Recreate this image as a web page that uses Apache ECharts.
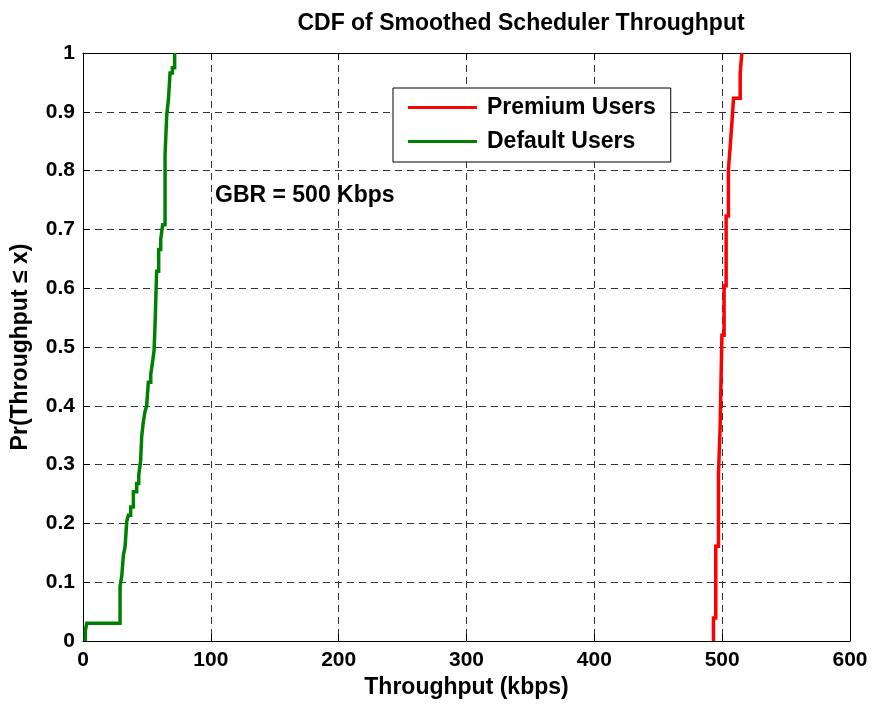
<!DOCTYPE html>
<html>
<head>
<meta charset="utf-8">
<script src="https://cdn.jsdelivr.net/npm/echarts@6/dist/echarts.min.js"></script>
<style>
  html, body { margin: 0; padding: 0; background: #fff; }
  #chart { width: 874px; height: 704px; }
</style>
</head>
<body>
<div id="chart"></div>
<script>
// CDF steps: throughput (kbps) where the curve jumps, and probability after the jump
const premiumX = [493.2, 493.2, 495.0, 497.1, 498.4, 499.8, 501.5, 503.1, 504.9, 506.3, 507.6, 508.9, 514.1, 515.4];
const premiumP = [0, 0.039, 0.161, 0.282, 0.364, 0.52, 0.604, 0.723, 0.802, 0.841, 0.881, 0.923, 0.966, 1.0];

const defaultX = [1.8, 1.8, 2.9, 29.0, 30.3, 31.6, 32.9, 34.2, 35.5, 37.3, 39.4, 42.0, 43.6, 45.1, 45.9,
  47.2, 48.5, 49.8, 51.1, 53.0, 54.2, 55.6, 56.5, 57.6, 59.2, 60.8, 62.3, 64.2, 65.5, 66.8, 68.1, 69.9, 71.7];
const defaultP = [0, 0.017, 0.03, 0.093, 0.11, 0.146, 0.16, 0.203, 0.214, 0.228, 0.254, 0.268, 0.282, 0.307, 0.347,
  0.373, 0.39, 0.40, 0.44, 0.454, 0.471, 0.494, 0.547, 0.629, 0.666, 0.683, 0.708, 0.827, 0.895, 0.92, 0.966, 0.975, 1.0];

const seriesNames = ['Premium Users', 'Default Users'];
const seriesColors = ['#ff0000', '#008000'];
const annotation = 'GBR = 500 Kbps';

const FONT = "'Liberation Sans', Arial, sans-serif";

function zip(xs, ys) {
  return xs.map((x, i) => [x, ys[i]]);
}

const chart = echarts.init(document.getElementById('chart'));

// box axes (top / right) only draw the frame and inside ticks
function frameAxis(pos, min, max, interval) {
  return {
    type: 'value', position: pos, min: min, max: max, interval: interval,
    axisLine: { show: true, onZero: false, lineStyle: { color: '#000', width: 1 } },
    axisTick: { show: true, inside: true, length: 7, lineStyle: { color: '#000' } },
    axisLabel: { show: false },
    splitLine: { show: false }
  };
}

const gridLine = { show: true, lineStyle: { color: '#333', type: [7, 5], width: 1 } };

chart.setOption({
  animation: false,
  backgroundColor: '#fff',
  title: {
    text: 'CDF of Smoothed Scheduler Throughput',
    left: 516,
    textAlign: 'center',
    top: 7,
    textStyle: { color: '#000', fontSize: 23, fontWeight: 'bold', fontFamily: FONT }
  },
  grid: { left: 83, right: 24, top: 53, bottom: 61 },
  legend: {
    data: seriesNames,
    orient: 'vertical',
    left: 393,
    top: 88,
    padding: [8, 15, 9, 15],
    itemGap: 11,
    itemWidth: 69,
    itemHeight: 3,
    icon: 'rect',
    borderColor: '#000',
    borderWidth: 1,
    backgroundColor: '#fff',
    textStyle: { color: '#000', fontSize: 23, fontWeight: 'bold', fontFamily: FONT, lineHeight: 23, padding: [0, 0, 0, 5] }
  },
  xAxis: [
    {
      type: 'value', position: 'bottom', min: 0, max: 600, interval: 100,
      axisLine: { show: true, onZero: false, lineStyle: { color: '#000', width: 1 } },
      axisTick: { show: true, inside: true, length: 7, lineStyle: { color: '#000' } },
      axisLabel: { color: '#000', fontSize: 21, fontWeight: 'bold', fontFamily: FONT, margin: 9 },
      splitLine: gridLine,
      name: 'Throughput (kbps)',
      nameLocation: 'middle',
      nameGap: 35,
      nameTextStyle: { color: '#000', fontSize: 23, fontWeight: 'bold', fontFamily: FONT }
    },
    frameAxis('top', 0, 600, 100)
  ],
  yAxis: [
    {
      type: 'value', position: 'left', min: 0, max: 1, interval: 0.1,
      axisLine: { show: true, onZero: false, lineStyle: { color: '#000', width: 1 } },
      axisTick: { show: true, inside: true, length: 7, lineStyle: { color: '#000' } },
      axisLabel: {
        color: '#000', fontSize: 21, fontWeight: 'bold', fontFamily: FONT, margin: 8,
        formatter: v => (v === 0 || v === 1) ? String(v) : v.toFixed(1)
      },
      splitLine: gridLine,
      name: 'Pr(Throughput \u2264 x)',
      nameLocation: 'middle',
      nameGap: 51,
      nameTextStyle: { color: '#000', fontSize: 23, fontWeight: 'bold', fontFamily: FONT }
    },
    frameAxis('right', 0, 1, 0.1)
  ],
  graphic: [
    {
      type: 'text',
      left: 215,
      top: 184,
      style: { text: annotation, fill: '#000', font: 'bold 23px ' + FONT }
    }
  ],
  series: [
    {
      name: seriesNames[0],
      type: 'line',
      step: 'end',
      showSymbol: false,
      data: zip(premiumX, premiumP),
      itemStyle: { color: seriesColors[0] },
      lineStyle: { color: seriesColors[0], width: 3.5, join: 'miter', cap: 'butt' },
      z: 3
    },
    {
      name: seriesNames[1],
      type: 'line',
      step: 'end',
      showSymbol: false,
      data: zip(defaultX, defaultP),
      itemStyle: { color: seriesColors[1] },
      lineStyle: { color: seriesColors[1], width: 3.5, join: 'miter', cap: 'butt' },
      z: 3
    }
  ]
});
</script>
</body>
</html>
